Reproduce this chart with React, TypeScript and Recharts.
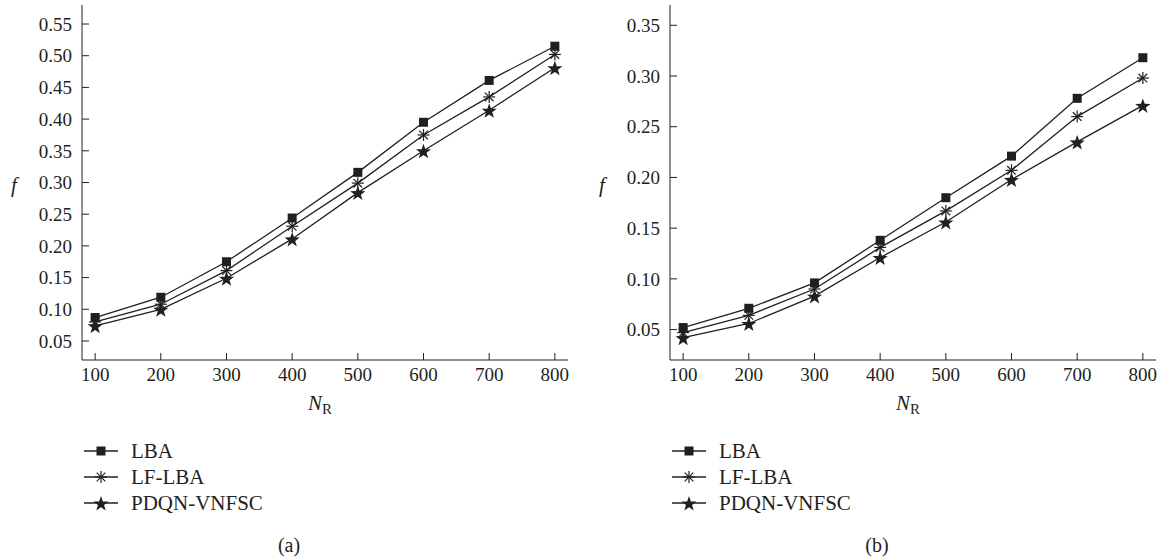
import { LineChart, Line, XAxis, YAxis, Legend } from "recharts"

const ink = "#231f20"
const serif = "'Liberation Serif', 'DejaVu Serif', serif"

const nrValues = [100, 200, 300, 400, 500, 600, 700, 800]
const xTicks = [100, 200, 300, 400, 500, 600, 700, 800]

// panel (a)
const lbaA = [0.087, 0.119, 0.175, 0.244, 0.316, 0.395, 0.461, 0.515]
const lfLbaA = [0.080, 0.108, 0.161, 0.231, 0.299, 0.375, 0.435, 0.502]
const pdqnA = [0.074, 0.100, 0.149, 0.211, 0.284, 0.350, 0.414, 0.481]
const yTicksA = [0.05, 0.1, 0.15, 0.2, 0.25, 0.3, 0.35, 0.4, 0.45, 0.5, 0.55]

// panel (b)
const lbaB = [0.052, 0.071, 0.096, 0.138, 0.180, 0.221, 0.278, 0.318]
const lfLbaB = [0.047, 0.064, 0.090, 0.131, 0.167, 0.207, 0.260, 0.298]
const pdqnB = [0.042, 0.056, 0.083, 0.121, 0.156, 0.198, 0.235, 0.271]
const yTicksB = [0.05, 0.1, 0.15, 0.2, 0.25, 0.3, 0.35]

const seriesNames = { lba: "LBA", lf: "LF-LBA", pdqn: "PDQN-VNFSC" }

function Square({ cx, cy }: any) {
  return <rect x={cx - 4.5} y={cy - 4.5} width={9} height={9} fill={ink} />
}

function Asterisk({ cx, cy }: any) {
  const r = 6
  return (
    <g stroke={ink} strokeWidth={1.2}>
      <line x1={cx - r} y1={cy} x2={cx + r} y2={cy} />
      <line x1={cx} y1={cy - r} x2={cx} y2={cy + r} />
      <line x1={cx - r * 0.72} y1={cy - r * 0.72} x2={cx + r * 0.72} y2={cy + r * 0.72} />
      <line x1={cx - r * 0.72} y1={cy + r * 0.72} x2={cx + r * 0.72} y2={cy - r * 0.72} />
    </g>
  )
}

function Star({ cx, cy }: any) {
  const pts: string[] = []
  for (let i = 0; i < 10; i++) {
    const r = i % 2 === 0 ? 8 : 3.2
    const a = -Math.PI / 2 + (i * Math.PI) / 5
    pts.push(`${cx + r * Math.cos(a)},${cy + 1 + r * Math.sin(a)}`)
  }
  return <polygon points={pts.join(" ")} fill={ink} />
}

const markers: Record<string, any> = { lba: Square, lf: Asterisk, pdqn: Star }

function LegendRows({ payload }: any) {
  return (
    <div style={{ fontFamily: serif, fontSize: 21, color: ink }}>
      {(payload || []).map((p: any) => {
        const M = markers[p.dataKey]
        return (
          <div key={p.dataKey} style={{ display: "flex", alignItems: "center", height: 26 }}>
            <svg width={34} height={26}>
              <line x1={0} y1={13} x2={34} y2={13} stroke={ink} strokeWidth={1.3} />
              <M cx={17} cy={13} />
            </svg>
            <span style={{ marginLeft: 13 }}>{p.value}</span>
          </div>
        )
      })}
    </div>
  )
}

function NrLabel({ viewBox }: any) {
  const { x, y, width } = viewBox
  return (
    <text x={x + width / 2 - 17} y={y + 50} fill={ink} fontFamily={serif} fontSize={21}>
      <tspan fontStyle="italic">N</tspan>
      <tspan fontSize={15} dy={4}>R</tspan>
    </text>
  )
}

function FLabel({ viewBox }: any) {
  const { x, y, height } = viewBox
  return (
    <text x={x + 14} y={y + height / 2 + 9} fill={ink} fontFamily={serif} fontSize={21} fontStyle="italic" textAnchor="middle">
      f
    </text>
  )
}

function Panel({ left, width, a, b, c, yDomain, yTicks, tag }: any) {
  const data = nrValues.map((n, i) => ({ n, lba: a[i], lf: b[i], pdqn: c[i] }))
  const tickStyle = { fill: ink, fontSize: 19, fontFamily: serif }
  return (
    <div style={{ position: "absolute", left, top: 0, width, height: 560 }}>
      <LineChart width={width} height={560} data={data} margin={{ top: 5, right: width - 82 - 486, left: 0, bottom: 170 }}>
        <XAxis
          dataKey="n"
          type="number"
          domain={[80, 820]}
          ticks={xTicks}
          height={30}
          stroke={ink}
          tickSize={-7}
          tickMargin={15}
          tick={tickStyle}
          label={<NrLabel />}
        />
        <YAxis
          type="number"
          domain={yDomain}
          ticks={yTicks}
          width={82}
          stroke={ink}
          tickSize={-7}
          tickMargin={17}
          tick={tickStyle}
          tickFormatter={(v: number) => v.toFixed(2)}
          label={<FLabel />}
        />
        <Legend
          layout="vertical"
          align="center"
          verticalAlign="middle"
          content={<LegendRows />}
          wrapperStyle={{ left: 84, top: 438, width: 300 }}
        />
        {(["lba", "lf", "pdqn"] as const).map((k) => {
          const M = markers[k]
          return (
            <Line
              key={k}
              dataKey={k}
              name={seriesNames[k]}
              stroke={ink}
              strokeWidth={1.3}
              isAnimationActive={false}
              dot={(p: any) => <M key={`${k}-${p.index}`} cx={p.cx} cy={p.cy} />}
              activeDot={false}
            />
          )
        })}
      </LineChart>
      <div style={{ position: "absolute", left: 269, top: 533, width: 40, textAlign: "center", fontFamily: serif, fontSize: 20, lineHeight: "24px", color: ink }}>
        {tag}
      </div>
    </div>
  )
}

export default function App() {
  return (
    <div style={{ position: "absolute", left: 0, top: 0, width: 1163, height: 560, background: "#fff" }}>
      <Panel left={0} width={581} a={lbaA} b={lfLbaA} c={pdqnA} yDomain={[0.02, 0.58]} yTicks={yTicksA} tag="(a)" />
      <Panel left={588} width={575} a={lbaB} b={lfLbaB} c={pdqnB} yDomain={[0.02, 0.37]} yTicks={yTicksB} tag="(b)" />
    </div>
  )
}
